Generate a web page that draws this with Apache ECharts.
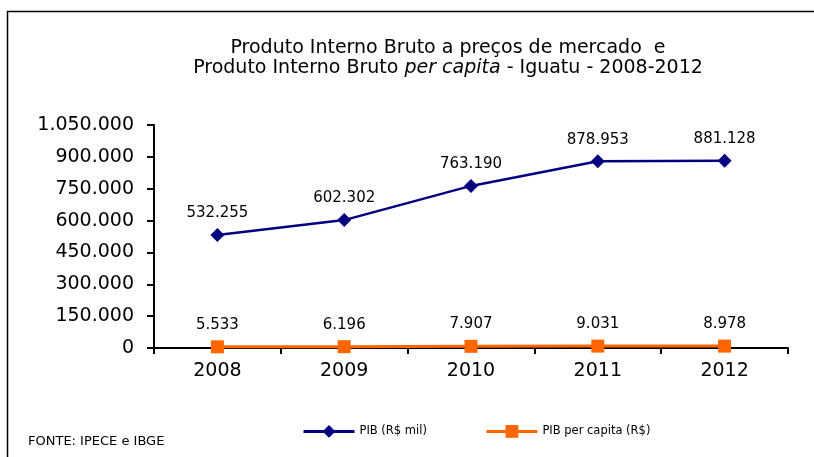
<!DOCTYPE html>
<html><head><meta charset="utf-8">
<script src="https://cdn.jsdelivr.net/npm/echarts@6/dist/echarts.min.js"></script>
<style>html,body{margin:0;padding:0;background:#fff}#c{width:814px;height:457px}</style>
</head><body><div id="c"></div>
<script>
var categories = ['2008','2009','2010','2011','2012'];
var pibValues = [532255, 602302, 763190, 878953, 881128];
var perCapitaValues = [5533, 6196, 7907, 9031, 8978];
var yTicks = [0, 150000, 300000, 450000, 600000, 750000, 900000, 1050000];

function fmt(v){ return String(v).replace(/\B(?=(\d{3})+(?!\d))/g,'.'); }

var chart = echarts.init(document.getElementById('c'), null, {renderer:'canvas'});
var font = '"DejaVu Sans", sans-serif';
chart.setOption({
  animation:false,
  backgroundColor:'#fff',
  textStyle:{fontFamily:font},
  graphic:[
    {type:'rect', shape:{x:7.5,y:11.5,width:900,height:600}, style:{fill:'none',stroke:'#000',lineWidth:1.5}, z:-1},
    {type:'text', x:448, y:39, style:{text:'Produto Interno Bruto a preços de mercado  e', font:'19px '+font, fill:'#000', textAlign:'center'}},
    {type:'text', x:448, y:59, style:{rich:{n:{font:'19px '+font, fill:'#000'}, i:{font:'italic 19px '+font, fill:'#000'}}, text:'{n|Produto Interno Bruto }{i|per capita}{n| - Iguatu - 2008-2012}', textAlign:'center'}},
    {type:'text', left:28, top:435, style:{text:'FONTE: IPECE e IBGE', font:'13px '+font, fill:'#000'}}
  ],
  grid:{left:154, right:26, top:125, bottom:109},
  legend:{
    left:297, top:420, itemWidth:51, itemHeight:16, itemGap:58,
    textStyle:{fontSize:11.5, fontFamily:font, color:'#000'},
    data:[{name:'PIB (R$ mil)', lineStyle:{width:3}},{name:'PIB per capita (R$)', lineStyle:{width:3}}]
  },
  xAxis:{
    type:'category', data:categories, boundaryGap:true,
    axisLine:{lineStyle:{color:'#000', width:2}},
    axisTick:{show:true, length:6, lineStyle:{color:'#000',width:2}},
    axisLabel:{fontSize:19, color:'#000', fontFamily:font, margin:14}
  },
  yAxis:{
    type:'value', min:0, max:1050000, interval:150000,
    axisLine:{show:true, lineStyle:{color:'#000', width:2}},
    axisTick:{show:true, length:7, lineStyle:{color:'#000',width:2}},
    splitLine:{show:false},
    axisLabel:{fontSize:19, color:'#000', fontFamily:font, margin:20, formatter:function(v){return fmt(v);}}
  },
  series:[
    {name:'PIB (R$ mil)', type:'line', data:pibValues, symbol:'diamond', symbolSize:14,
     lineStyle:{color:'#000080', width:2.5}, itemStyle:{color:'#000080'},
     label:{show:true, position:'top', distance:7, fontSize:15, color:'#000', fontFamily:font, formatter:function(p){return fmt(p.value);}}},
    {name:'PIB per capita (R$)', type:'line', data:perCapitaValues, symbol:'rect', symbolSize:13,
     lineStyle:{color:'#FF6600', width:3}, itemStyle:{color:'#FF6600'},
     label:{show:true, position:'top', distance:8, fontSize:15, color:'#000', fontFamily:font, formatter:function(p){return fmt(p.value);}}}
  ]
});
</script></body></html>
